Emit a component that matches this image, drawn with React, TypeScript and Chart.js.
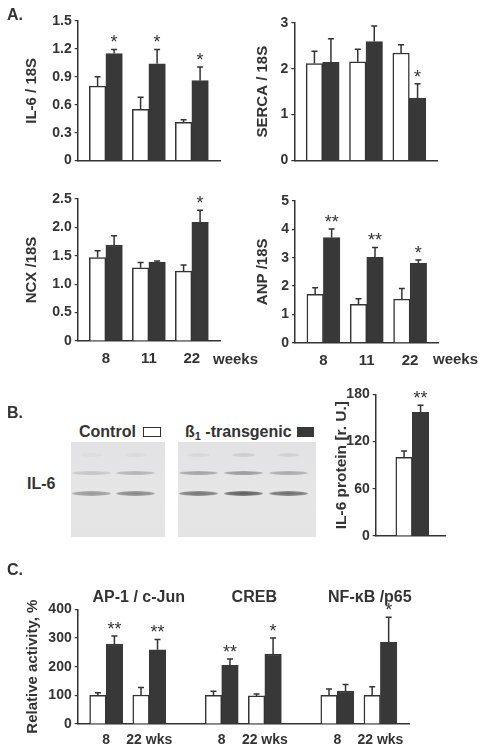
import React, { useEffect, useRef } from 'react';
import { Chart, registerables } from 'chart.js';

Chart.register(...registerables);

const FONT = '"Liberation Sans", Arial, Helvetica, sans-serif';
const INK = '#333333';
const DARK = '#383838';

// ---------- Panel A data ----------
const weeks = ['8', '11', '22'];

const il6Ticks = [0, 0.3, 0.6, 0.9, 1.2, 1.5];
const il6Control = [0.8, 0.55, 0.41];
const il6ControlErr = [0.1, 0.13, 0.03];
const il6Tg = [1.15, 1.04, 0.86];
const il6TgErr = [0.045, 0.155, 0.145];
const il6Sig = ['*', '*', '*'];

const sercaTicks = [0, 1, 2, 3];
const sercaControl = [2.11, 2.15, 2.34];
const sercaControlErr = [0.27, 0.27, 0.18];
const sercaTg = [2.14, 2.59, 1.36];
const sercaTgErr = [0.51, 0.34, 0.31];
const sercaSig = ['', '', '*'];

const ncxTicks = [0, 0.5, 1.0, 1.5, 2.0, 2.5];
const ncxControl = [1.47, 1.29, 1.23];
const ncxControlErr = [0.12, 0.09, 0.11];
const ncxTg = [1.69, 1.39, 2.09];
const ncxTgErr = [0.165, 0.02, 0.21];
const ncxSig = ['', '', '*'];

const anpTicks = [0, 1, 2, 3, 4, 5];
const anpControl = [1.71, 1.35, 1.54];
const anpControlErr = [0.23, 0.2, 0.37];
const anpTg = [3.71, 3.01, 2.8];
const anpTgErr = [0.3, 0.35, 0.12];
const anpSig = ['**', '**', '*'];

// ---------- Panel B data ----------
const proteinTicks = [0, 60, 120, 180];
const proteinControl = [100];
const proteinControlErr = [8];
const proteinTg = [157];
const proteinTgErr = [9];
const proteinSig = ['**'];

const blotControlLanes = [
  { top: 0.04, upper: 0.2, lower: 0.48 },
  { top: 0.06, upper: 0.32, lower: 0.6 },
];
const blotTgLanes = [
  { top: 0.08, upper: 0.42, lower: 0.7 },
  { top: 0.15, upper: 0.48, lower: 0.86 },
  { top: 0.12, upper: 0.38, lower: 0.76 },
];

// ---------- Panel C data ----------
const factors = ['AP-1 / c-Jun', 'CREB', 'NF-\u03BAB /p65'];
const timepoints = ['8', '22 wks'];
const activityTicks = [0, 100, 200, 300, 400];
const activityControl = [100, 101, 100, 98, 100, 100];
const activityControlErr = [9, 26, 14, 7, 22, 30];
const activityTg = [279, 259, 205, 244, 115, 285];
const activityTgErr = [28, 36, 22, 56, 23, 87];
const activitySig = ['**', '**', '**', '*', '', '*'];

// ---------- plugins ----------
const errorBarPlugin = {
  id: 'errorBars',
  afterDatasetsDraw(chart: any) {
    const ctx = chart.ctx;
    const yScale = chart.scales.y;
    chart.data.datasets.forEach((ds: any, di: number) => {
      const meta = chart.getDatasetMeta(di);
      meta.data.forEach((bar: any, i: number) => {
        const v = ds.data[i].y;
        const e = ds.errors ? ds.errors[i] : 0;
        const top = yScale.getPixelForValue(v + e);
        const x = bar.x;
        ctx.save();
        ctx.strokeStyle = INK;
        ctx.lineWidth = 1.5;
        ctx.beginPath();
        ctx.moveTo(x, bar.y);
        ctx.lineTo(x, top);
        ctx.moveTo(x - 3, top);
        ctx.lineTo(x + 3, top);
        ctx.stroke();
        const s = ds.sig ? ds.sig[i] : '';
        if (s) {
          ctx.font = `18px ${FONT}`;
          ctx.fillStyle = INK;
          ctx.textAlign = 'center';
          ctx.textBaseline = 'alphabetic';
          ctx.fillText(s, x, top - 1);
        }
        ctx.restore();
      });
    });
  },
};

type Box = { x: number; y: number; w: number; h: number };
type Area = { l: number; t: number; r: number; b: number };

type Spec = {
  box: Box;
  area: Area;
  xMin: number;
  xMax: number;
  xPositions: number[];
  xLabels: string[] | null;
  xFont: number;
  xPad: number;
  yTicks: number[];
  yFmt: (v: number) => string;
  yTitle: string;
  yTitleSize: number;
  titleX: number;
  control: number[];
  controlErr: number[];
  tg: number[];
  tgErr: number[];
  sig: string[];
  groupTitles?: { text: string; pos: number }[];
};

function makeConfig(s: Spec): any {
  const plugins: any[] = [errorBarPlugin];
  if (s.groupTitles) {
    const gt = s.groupTitles;
    plugins.push({
      id: 'groupTitles',
      afterDraw(chart: any) {
        const ctx = chart.ctx;
        const xs = chart.scales.x;
        ctx.save();
        ctx.font = `bold 16px ${FONT}`;
        ctx.fillStyle = INK;
        ctx.textAlign = 'center';
        ctx.textBaseline = 'alphabetic';
        gt.forEach((g) => {
          ctx.fillText(g.text, xs.getPixelForValue(g.pos) + 11, chart.chartArea.top - 7);
        });
        ctx.restore();
      },
    });
  }
  return {
    type: 'bar',
    data: {
      datasets: [
        {
          label: 'Control',
          data: s.xPositions.map((x, i) => ({ x, y: s.control[i] })),
          backgroundColor: '#ffffff',
          borderColor: INK,
          borderWidth: 1.5,
          errors: s.controlErr,
          sig: [],
        },
        {
          label: '\u00DF1-transgenic',
          data: s.xPositions.map((x, i) => ({ x, y: s.tg[i] })),
          backgroundColor: DARK,
          borderColor: DARK,
          borderWidth: 1.5,
          errors: s.tgErr,
          sig: s.sig,
        },
      ],
    },
    plugins,
    options: {
      animation: false,
      responsive: false,
      devicePixelRatio: 1,
      layout: {
        autoPadding: false,
        padding: {
          left: 0,
          top: s.area.t - s.box.y,
          right: s.box.x + s.box.w - s.area.r,
          bottom: 0,
        },
      },
      datasets: { bar: { barThickness: 16.5 } },
      plugins: { legend: { display: false }, tooltip: { enabled: false } },
      scales: {
        x: {
          type: 'linear',
          offset: false,
          min: s.xMin,
          max: s.xMax,
          grid: { display: false, drawTicks: false },
          border: { display: true, color: INK, width: 1.5 },
          ticks: {
            display: !!s.xLabels,
            autoSkip: false,
            maxRotation: 0,
            padding: s.xPad,
            color: INK,
            font: { family: FONT, size: s.xFont, weight: 'bold' },
            callback: (_v: any, i: number) => (s.xLabels ? s.xLabels[i] : ''),
          },
          afterBuildTicks: (sc: any) => {
            sc.ticks = s.xPositions.map((v) => ({ value: v }));
          },
          afterFit: (sc: any) => {
            sc.height = s.box.y + s.box.h - s.area.b;
          },
        },
        y: {
          min: s.yTicks[0],
          max: s.yTicks[s.yTicks.length - 1],
          grid: {
            display: true,
            drawOnChartArea: false,
            drawTicks: true,
            tickLength: 3,
            color: INK,
            lineWidth: 1.2,
          },
          border: { display: true, color: INK, width: 1.5 },
          ticks: {
            padding: 3,
            color: INK,
            font: { family: FONT, size: 14, weight: 'bold' },
            callback: (v: any) => s.yFmt(Number(v)),
          },
          title: {
            display: true,
            text: s.yTitle,
            color: INK,
            font: { family: FONT, size: s.yTitleSize, weight: 'bold' },
            padding: { top: s.titleX - s.box.x - s.yTitleSize * 0.6, bottom: 0 },
          },
          afterBuildTicks: (sc: any) => {
            sc.ticks = s.yTicks.map((v) => ({ value: v }));
          },
          afterFit: (sc: any) => {
            sc.width = s.area.l - s.box.x;
          },
        },
      },
    },
  };
}

function BarPanel({ spec }: { spec: Spec }) {
  const ref = useRef<HTMLCanvasElement>(null);
  useEffect(() => {
    const chart = new Chart(ref.current as HTMLCanvasElement, makeConfig(spec));
    return () => chart.destroy();
  }, []);
  const b = spec.box;
  return (
    <canvas
      ref={ref}
      width={b.w}
      height={b.h}
      style={{ position: 'absolute', left: b.x, top: b.y, width: b.w, height: b.h }}
    />
  );
}

const dec1 = (v: number) => (v === 0 ? '0' : v.toFixed(1));
const int = (v: number) => String(Math.round(v));

const A_MIN = -0.655;
const A_MAX = 2.655;
const aPos = weeks.map((_, i) => i);

const specIl6: Spec = {
  box: { x: 0, y: 0, w: 240, h: 172 },
  area: { l: 77.7, t: 21, r: 220, b: 163.3 },
  xMin: A_MIN, xMax: A_MAX, xPositions: aPos, xLabels: null, xFont: 15, xPad: 9,
  yTicks: il6Ticks, yFmt: dec1, yTitle: 'IL-6 / 18S', yTitleSize: 15, titleX: 31.5,
  control: il6Control, controlErr: il6ControlErr, tg: il6Tg, tgErr: il6TgErr, sig: il6Sig,
};
const specSerca: Spec = {
  box: { x: 240, y: 0, w: 242, h: 172 },
  area: { l: 294.3, t: 22.7, r: 437.7, b: 163.3 },
  xMin: A_MIN, xMax: A_MAX, xPositions: aPos, xLabels: null, xFont: 15, xPad: 9,
  yTicks: sercaTicks, yFmt: int, yTitle: 'SERCA / 18S', yTitleSize: 15, titleX: 263.3,
  control: sercaControl, controlErr: sercaControlErr, tg: sercaTg, tgErr: sercaTgErr, sig: sercaSig,
};
const specNcx: Spec = {
  box: { x: 0, y: 172, w: 240, h: 200 },
  area: { l: 77.7, t: 199, r: 220, b: 341 },
  xMin: A_MIN, xMax: A_MAX, xPositions: aPos, xLabels: weeks, xFont: 15, xPad: 9,
  yTicks: ncxTicks, yFmt: dec1, yTitle: 'NCX /18S', yTitleSize: 15, titleX: 31.7,
  control: ncxControl, controlErr: ncxControlErr, tg: ncxTg, tgErr: ncxTgErr, sig: ncxSig,
};
const specAnp: Spec = {
  box: { x: 240, y: 172, w: 242, h: 200 },
  area: { l: 295, t: 201, r: 438.5, b: 342.7 },
  xMin: A_MIN, xMax: A_MAX, xPositions: aPos, xLabels: weeks, xFont: 15, xPad: 9,
  yTicks: anpTicks, yFmt: int, yTitle: 'ANP /18S', yTitleSize: 15, titleX: 263.3,
  control: anpControl, controlErr: anpControlErr, tg: anpTg, tgErr: anpTgErr, sig: anpSig,
};
const specProtein: Spec = {
  box: { x: 320, y: 380, w: 162, h: 170 },
  area: { l: 375.7, t: 394.3, r: 445, b: 536 },
  xMin: -1.12, xMax: 1, xPositions: [0], xLabels: null, xFont: 14, xPad: 8,
  yTicks: proteinTicks, yFmt: int, yTitle: 'IL-6 protein [r. U.]', yTitleSize: 15.5, titleX: 341.7,
  control: proteinControl, controlErr: proteinControlErr, tg: proteinTg, tgErr: proteinTgErr, sig: proteinSig,
};

const PAIR_STEP = 2.68;
const cPos = factors.flatMap((_, p) => timepoints.map((_, w) => p * PAIR_STEP + w));
const cLabels = factors.flatMap(() => timepoints);
const specActivity: Spec = {
  box: { x: 0, y: 580, w: 482, h: 172 },
  area: { l: 77.7, t: 609.3, r: 409.3, b: 724 },
  xMin: -0.66, xMax: 2 * PAIR_STEP + 1.67, xPositions: cPos, xLabels: cLabels, xFont: 14, xPad: 8,
  yTicks: activityTicks, yFmt: int, yTitle: 'Relative activity, %', yTitleSize: 15, titleX: 32.5,
  control: activityControl, controlErr: activityControlErr, tg: activityTg, tgErr: activityTgErr, sig: activitySig,
  groupTitles: factors.map((f, p) => ({ text: f, pos: p * PAIR_STEP + 0.5 })),
};

// ---------- blot (drawn with HTML boxes) ----------
function Band({ x, y, w, h, a }: { x: number; y: number; w: number; h: number; a: number }) {
  return (
    <div
      style={{
        position: 'absolute',
        left: x,
        top: y - h / 2,
        width: w,
        height: h,
        borderRadius: '50% / 50%',
        background: `radial-gradient(ellipse at center, rgba(70,70,70,${a}) 0%, rgba(70,70,70,${a * 0.8}) 55%, rgba(70,70,70,0) 100%)`,
        filter: 'blur(0.6px)',
      }}
    />
  );
}

function Blot({ x, w, lanes, laneW, laneGap }: { x: number; w: number; lanes: { top: number; upper: number; lower: number }[]; laneW: number; laneGap: number }) {
  const top = 441.7;
  const h = 95;
  return (
    <div
      style={{
        position: 'absolute',
        left: x,
        top,
        width: w,
        height: h,
        background: 'linear-gradient(180deg, #e2e2e4 0%, #e6e6e7 50%, #e4e4e5 100%)',
        overflow: 'hidden',
      }}
    >
      {lanes.map((l, i) => {
        const lx = 1 + i * (laneW + laneGap);
        return (
          <React.Fragment key={i}>
            <Band x={lx + 8} y={13} w={laneW - 16} h={4} a={l.top} />
            <Band x={lx} y={31.6} w={laneW} h={4} a={l.upper} />
            <Band x={lx} y={51.6} w={laneW} h={5} a={l.lower} />
          </React.Fragment>
        );
      })}
    </div>
  );
}

function Txt({ x, y, size, children, bold = true }: { x: number; y: number; size: number; children: any; bold?: boolean }) {
  return (
    <div
      style={{
        position: 'absolute',
        left: x,
        top: y - 0.4885 * size,
        fontSize: size,
        lineHeight: `${size}px`,
        fontWeight: bold ? 'bold' : 'normal',
        whiteSpace: 'nowrap',
        color: INK,
      }}
    >
      {children}
    </div>
  );
}

export default function App() {
  return (
    <div
      style={{
        position: 'absolute',
        left: 0,
        top: 0,
        width: 482,
        height: 752,
        background: '#ffffff',
        fontFamily: FONT,
        overflow: 'hidden',
      }}
    >
      <BarPanel spec={specIl6} />
      <BarPanel spec={specSerca} />
      <BarPanel spec={specNcx} />
      <BarPanel spec={specAnp} />
      <BarPanel spec={specProtein} />
      <BarPanel spec={specActivity} />

      <Txt x={7} y={15} size={16}>A.</Txt>
      <Txt x={213} y={358} size={15}>weeks</Txt>
      <Txt x={433} y={358} size={15}>weeks</Txt>

      <Txt x={7} y={413} size={16}>B.</Txt>
      <Txt x={79} y={432.3} size={16}>Control</Txt>
      <div
        style={{
          position: 'absolute',
          left: 143,
          top: 427,
          width: 18,
          height: 10,
          border: `1.5px solid ${INK}`,
          boxSizing: 'border-box',
          background: '#fff',
        }}
      />
      <Txt x={185} y={432.3} size={16}>
        {'\u00DF'}
        <span style={{ fontSize: 11, position: 'relative', top: 3 }}>1</span>
        {' -transgenic'}
      </Txt>
      <div style={{ position: 'absolute', left: 297, top: 427, width: 17, height: 10, background: DARK }} />
      <Txt x={27} y={484.3} size={16}>IL-6</Txt>
      <Blot x={71} w={94} lanes={blotControlLanes} laneW={39} laneGap={5} />
      <Blot x={178.3} w={137.4} lanes={blotTgLanes} laneW={39} laneGap={6} />

      <Txt x={7} y={570} size={16}>C.</Txt>
    </div>
  );
}
